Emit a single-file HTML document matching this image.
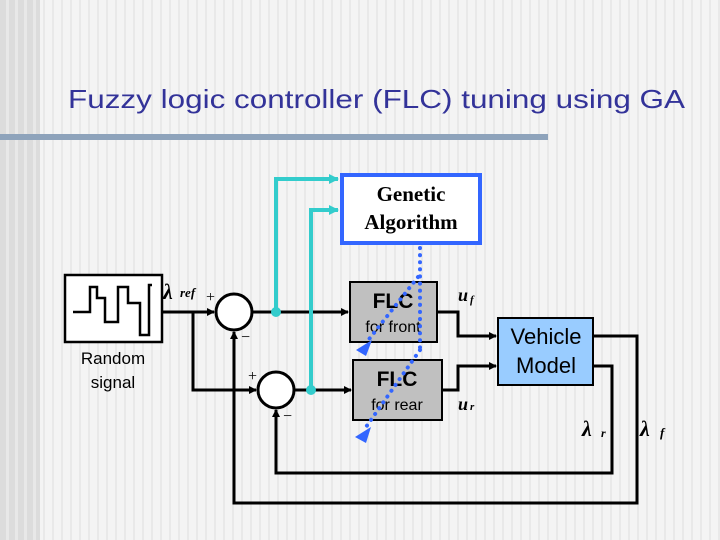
<!DOCTYPE html>
<html><head><style>
html,body{margin:0;padding:0}
body{width:720px;height:540px;overflow:hidden;position:relative;
background:repeating-linear-gradient(90deg,#f4f4f4 0px,#f4f4f4 7px,#e9e9e9 7px,#e9e9e9 9px);}
.band{position:absolute;left:0;top:0;width:40px;height:540px;background:repeating-linear-gradient(90deg,#dcdcdc 0,#dcdcdc 6px,#e8e8e8 6px,#e8e8e8 9px)}
</style></head><body>
<div class="band"></div>
<svg width="720" height="540" style="position:absolute;left:0;top:0" font-family="Liberation Sans, sans-serif">
<text x="68" y="108" font-size="26" fill="#333399" textLength="617" lengthAdjust="spacingAndGlyphs">Fuzzy logic controller (FLC) tuning using GA</text>
<rect x="0" y="134" width="548" height="6" fill="#8ea3bb"/>
<defs>
<marker id="a" markerWidth="8" markerHeight="8" refX="7" refY="4" orient="auto" markerUnits="userSpaceOnUse"><path d="M0,0 L8,4 L0,8Z" fill="#000"/></marker>
<marker id="t" markerWidth="10" markerHeight="10" refX="9" refY="5" orient="auto" markerUnits="userSpaceOnUse"><path d="M0,0 L10,5 L0,10Z" fill="#33cccc"/></marker>
</defs>
<g stroke="#000" stroke-width="3" fill="none">
<rect x="65" y="275" width="97" height="67" fill="#fff" stroke-width="2.5"/>
<path d="M73,312 H90 V287 H97 V298 H105 V322 H118 V287 H128 V303 H140 V335 H149 V285 H152" stroke-width="2.5"/>
<circle cx="234" cy="312" r="18" fill="#fff"/>
<circle cx="276" cy="390" r="18" fill="#fff"/>
<path d="M162,312 H214" marker-end="url(#a)"/>
<path d="M193,312 V390 H256" marker-end="url(#a)"/>
<path d="M252,312 H348" marker-end="url(#a)"/>
<path d="M294,390 H351" marker-end="url(#a)"/>
<path d="M437,312 H458 V336 H496" marker-end="url(#a)"/>
<path d="M442,390 H458 V366 H496" marker-end="url(#a)"/>
<path d="M594,336 H637 V503 H234 V332" marker-end="url(#a)"/>
<path d="M594,366 H612 V473 H276 V410" marker-end="url(#a)"/>
</g>
<g stroke="#33cccc" stroke-width="4" fill="none">
<path d="M276,312 V179 H338" marker-end="url(#t)"/>
<path d="M311,390 V210 H338" marker-end="url(#t)"/>
</g>
<circle cx="276" cy="312" r="5" fill="#33cccc"/>
<circle cx="311" cy="390" r="5" fill="#33cccc"/>
<rect x="342" y="175" width="138" height="68" fill="#fff" stroke="#3366ff" stroke-width="4"/>
<text x="411" y="201" font-family="Liberation Serif,serif" font-size="21" font-weight="bold" text-anchor="middle">Genetic</text>
<text x="411" y="229" font-family="Liberation Serif,serif" font-size="21" font-weight="bold" text-anchor="middle">Algorithm</text>
<rect x="350" y="282" width="87" height="60" fill="#c0c0c0" stroke="#000" stroke-width="2"/>
<rect x="353" y="360" width="89" height="60" fill="#c0c0c0" stroke="#000" stroke-width="2"/>
<text x="393" y="308" font-size="21" font-weight="bold" text-anchor="middle">FLC</text>
<text x="393" y="332" font-size="16" text-anchor="middle">for front</text>
<text x="397" y="386" font-size="21" font-weight="bold" text-anchor="middle">FLC</text>
<text x="397" y="410" font-size="16" text-anchor="middle">for rear</text>
<rect x="498" y="318" width="95" height="67" fill="#99ccff" stroke="#000" stroke-width="2"/>
<text x="546" y="344" font-size="22" text-anchor="middle">Vehicle</text>
<text x="546" y="373" font-size="22" text-anchor="middle">Model</text>
<text x="113" y="364" font-size="17" text-anchor="middle">Random</text>
<text x="113" y="388" font-size="17" text-anchor="middle">signal</text>
<g fill="none" stroke="#3366ff" stroke-width="4" stroke-dasharray="0.1 7" stroke-linecap="round">
<path d="M420,248 V350"/>
<path d="M420,350 L366,427"/>
<path d="M418,277 L366,343"/>
</g>
<path d="M356,350 L372,340 L366,356Z" fill="#3366ff"/>
<path d="M355,437 L371,427 L366,443Z" fill="#3366ff"/>
<g font-family="Liberation Serif,serif" font-style="italic" font-weight="bold">
<text x="163" y="299" font-size="22">λ</text>
<text x="180" y="297" font-size="13">ref</text>
<text x="458" y="301" font-size="18">u</text><text x="470" y="303" font-size="11">f</text>
<text x="458" y="410" font-size="18">u</text><text x="470" y="410" font-size="11">r</text>
<text x="582" y="436" font-size="22">λ</text><text x="601" y="437" font-size="12">r</text>
<text x="640" y="436" font-size="22">λ</text><text x="660" y="437" font-size="13">f</text>
</g>
<g font-family="Liberation Serif,serif" font-size="16">
<text x="206" y="302">+</text><text x="241" y="342">−</text>
<text x="248" y="381">+</text><text x="283" y="421">−</text>
</g>
</svg>
</body></html>
